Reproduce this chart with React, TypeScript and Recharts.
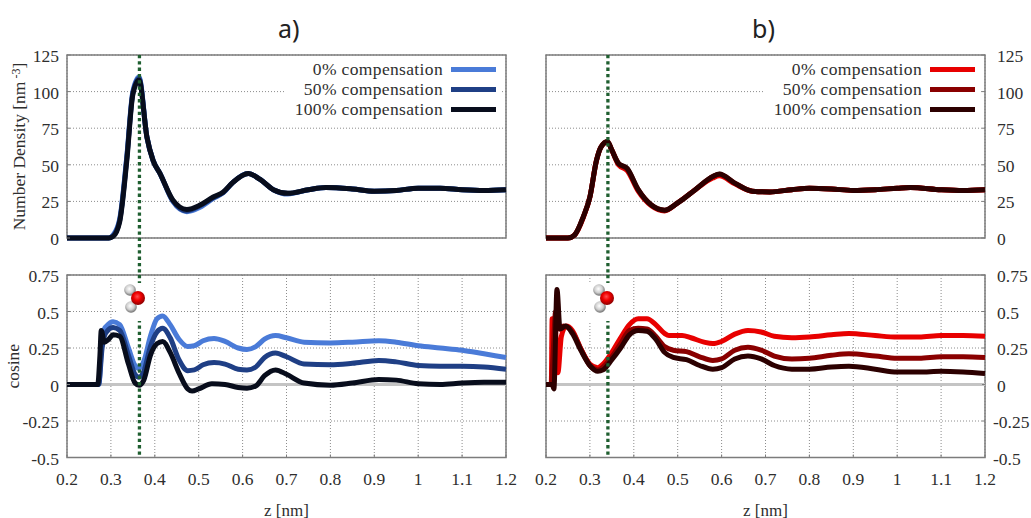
import { CartesianGrid, Legend, Line, LineChart, ReferenceArea, ReferenceLine, XAxis, YAxis } from 'recharts';

const FONT = '"Liberation Serif", serif';
const TEXT = '#2e2e2e';
const FRAME = '#7c7c7c';

const zTicks = [0.2, 0.3, 0.4, 0.5, 0.6, 0.7, 0.8, 0.9, 1, 1.1, 1.2];
const densityTicks = [0, 25, 50, 75, 100, 125];
const cosineTicks = [-0.5, -0.25, 0, 0.25, 0.5, 0.75];
const seriesNames = ['0% compensation', '50% compensation', '100% compensation'];
const blues = ['#4a7bd8', '#1f3f85', '#080d1c'];
const reds = ['#e80000', '#8a0000', '#2c0000'];

// density, panel a
const densZA = [0.2, 0.25, 0.295, 0.305, 0.32, 0.336, 0.35, 0.364, 0.382, 0.396, 0.412, 0.441, 0.473, 0.503, 0.533, 0.556, 0.578, 0.613, 0.64, 0.67, 0.703, 0.75, 0.79, 0.85, 0.9, 0.95, 1, 1.05, 1.1, 1.15, 1.2];
const densA0 = [0, 0, 0, 2, 13, 55, 100, 110, 69, 53, 44, 25, 18, 21, 27, 31, 38, 44, 40, 33, 30, 33, 34.5, 33.5, 32, 32.5, 34, 34, 33, 32.5, 33];
const densA50 = [0, 0, 0, 1.5, 12, 54, 99, 109, 69, 53, 44, 25.5, 18.5, 22, 27.5, 31, 38, 44, 40, 33, 30.5, 33, 34.5, 33.5, 32, 32.5, 34, 34, 33, 32.5, 33];
const densA100 = [0, 0, 0, 1, 11, 52, 98, 108, 69, 53, 44, 26, 19.5, 22.5, 28, 31.5, 38, 44, 40, 33, 30.5, 33, 34.5, 33.5, 32, 32.5, 34, 34, 33, 32.5, 33];

// density, panel b
const densZB = [0.2, 0.25, 0.265, 0.285, 0.3, 0.315, 0.325, 0.34, 0.35, 0.365, 0.385, 0.41, 0.44, 0.47, 0.5, 0.54, 0.58, 0.595, 0.63, 0.67, 0.71, 0.76, 0.8, 0.85, 0.9, 0.95, 1, 1.03, 1.1, 1.15, 1.2];
const densB0 = [0, 0, 2, 14, 28, 53, 62, 65.5, 60, 50, 46, 32, 22, 18.5, 24, 33, 41, 42.5, 37, 32, 31.5, 33, 34, 33.5, 32.5, 33, 34, 34.5, 33, 32.5, 33];
const densB50 = [0, 0, 2, 14.5, 28, 53, 62, 66, 60, 51, 47, 33, 22.5, 19, 24, 33, 42, 43.5, 37.5, 32, 31.5, 33, 34, 33.5, 32.5, 33, 34, 34.5, 33, 32.5, 33];
const densB100 = [0, 0, 2, 14.5, 28, 53, 62, 66, 60, 51, 47.5, 33, 22.5, 19, 24, 33, 42, 43.7, 37.5, 32, 31.5, 33, 34, 33.5, 32.5, 33, 34, 34.5, 33, 32.5, 33];

// cosine, panel a
const cosZA0 = [0.2, 0.272, 0.28, 0.285, 0.29, 0.305, 0.32, 0.34, 0.355, 0.364, 0.375, 0.39, 0.405, 0.418, 0.435, 0.455, 0.475, 0.49, 0.51, 0.535, 0.56, 0.59, 0.61, 0.63, 0.65, 0.675, 0.7, 0.74, 0.8, 0.85, 0.91, 0.95, 1, 1.05, 1.1, 1.15, 1.2];
const cosA0 = [0, 0, 0.3, 0.38, 0.4, 0.43, 0.41, 0.25, 0.13, 0.11, 0.16, 0.33, 0.45, 0.47, 0.41, 0.31, 0.26, 0.265, 0.3, 0.315, 0.295, 0.25, 0.24, 0.26, 0.31, 0.335, 0.32, 0.29, 0.285, 0.29, 0.3, 0.29, 0.265, 0.25, 0.235, 0.21, 0.185];
const cosZA50 = cosZA0;
const cosA50 = [0, 0, 0.25, 0.33, 0.36, 0.39, 0.37, 0.2, 0.07, 0.05, 0.09, 0.26, 0.36, 0.385, 0.32, 0.17, 0.095, 0.1, 0.135, 0.15, 0.14, 0.105, 0.1, 0.12, 0.185, 0.215, 0.19, 0.14, 0.135, 0.145, 0.165, 0.155, 0.13, 0.125, 0.125, 0.12, 0.105];
const cosZA100 = [0.2, 0.27, 0.275, 0.278, 0.285, 0.295, 0.305, 0.32, 0.34, 0.355, 0.364, 0.375, 0.39, 0.405, 0.418, 0.435, 0.455, 0.475, 0.485, 0.5, 0.53, 0.56, 0.59, 0.61, 0.63, 0.65, 0.675, 0.7, 0.74, 0.8, 0.85, 0.91, 0.95, 1, 1.05, 1.1, 1.15, 1.2];
const cosA100 = [0, 0, 0.2, 0.37, 0.29, 0.31, 0.34, 0.33, 0.14, 0.01, -0.005, 0.03, 0.2, 0.28, 0.295, 0.22, 0.08, -0.03, -0.045, -0.03, 0.005, 0, -0.02, -0.025, -0.01, 0.06, 0.1, 0.07, 0.01, -0.005, 0.01, 0.035, 0.03, 0.005, 0, 0.01, 0.015, 0.015];

// cosine, panel b
const cosZB0 = [0.2, 0.212, 0.214, 0.22, 0.227, 0.235, 0.246, 0.26, 0.28, 0.3, 0.318, 0.33, 0.35, 0.37, 0.39, 0.41, 0.43, 0.45, 0.47, 0.48, 0.51, 0.53, 0.56, 0.58, 0.6, 0.63, 0.66, 0.69, 0.72, 0.76, 0.8, 0.85, 0.89, 0.95, 1, 1.05, 1.1, 1.15, 1.2];
const cosB0 = [0, 0, 0.45, 0.45, 0.08, 0.33, 0.4, 0.37, 0.24, 0.14, 0.115, 0.14, 0.22, 0.32, 0.41, 0.45, 0.45, 0.41, 0.35, 0.335, 0.335, 0.32, 0.29, 0.28, 0.295, 0.345, 0.37, 0.36, 0.33, 0.32, 0.325, 0.34, 0.35, 0.335, 0.325, 0.325, 0.335, 0.335, 0.33];
const cosZB50 = [0.2, 0.212, 0.216, 0.222, 0.23, 0.24, 0.26, 0.28, 0.3, 0.318, 0.33, 0.35, 0.37, 0.39, 0.41, 0.43, 0.45, 0.47, 0.49, 0.52, 0.55, 0.58, 0.6, 0.63, 0.66, 0.69, 0.72, 0.76, 0.8, 0.85, 0.89, 0.95, 1, 1.05, 1.1, 1.15, 1.2];
const cosB50 = [0, 0, 0.2, 0.5, 0.38, 0.4, 0.36, 0.24, 0.13, 0.1, 0.12, 0.19, 0.28, 0.37, 0.385, 0.38, 0.33, 0.26, 0.235, 0.225, 0.19, 0.165, 0.175, 0.235, 0.255, 0.235, 0.195, 0.175, 0.18, 0.2, 0.21, 0.195, 0.18, 0.18, 0.19, 0.19, 0.185];
const cosZB100 = [0.2, 0.214, 0.218, 0.225, 0.232, 0.245, 0.26, 0.28, 0.3, 0.318, 0.33, 0.35, 0.37, 0.39, 0.41, 0.43, 0.45, 0.47, 0.49, 0.52, 0.55, 0.58, 0.6, 0.63, 0.66, 0.69, 0.72, 0.76, 0.8, 0.85, 0.89, 0.95, 1, 1.05, 1.1, 1.15, 1.2];
const cosB100 = [0, 0, -0.03, 0.65, 0.38, 0.4, 0.35, 0.23, 0.13, 0.09, 0.1, 0.17, 0.25, 0.34, 0.37, 0.365, 0.31, 0.22, 0.185, 0.17, 0.13, 0.105, 0.115, 0.175, 0.195, 0.175, 0.13, 0.105, 0.105, 0.12, 0.125, 0.105, 0.085, 0.085, 0.09, 0.085, 0.075];

const zip = (zs: number[], vs: number[]) => zs.map((z, i) => ({ z, v: vs[i] }));

const tickStyle = { fontFamily: FONT, fontSize: 17.5, fill: TEXT };
const tickMark = { stroke: FRAME, strokeWidth: 1 };

// right hand minus labels hang a little to the left, as in the original
function YTick({ x, y, textAnchor, payload }: any) {
  const shift = textAnchor === 'start' && payload.value < 0 ? -4 : 0;
  return (
    <text x={x + shift} y={y} dy={7} textAnchor={textAnchor} {...tickStyle}>
      {payload.value}
    </text>
  );
}

function LegendRows({ payload }: any) {
  const rows = [...(payload || [])].sort((a: any, b: any) => seriesNames.indexOf(a.value) - seriesNames.indexOf(b.value));
  return (
    <div style={{ fontFamily: FONT, fontSize: 17.5, letterSpacing: 0.35, color: TEXT }}>
      {rows.map((p: any) => (
        <div key={p.value} style={{ display: 'flex', justifyContent: 'flex-end', alignItems: 'center', height: 19.7 }}>
          <span>{p.value}</span>
          <span style={{ display: 'inline-block', width: 45, height: 5, marginLeft: 8, background: p.color }} />
        </div>
      ))}
    </div>
  );
}

function DensityLabel({ viewBox }: any) {
  const cy = viewBox.y + viewBox.height / 2;
  return (
    <text transform={`translate(25,${cy}) rotate(-90)`} textAnchor="middle" fontFamily={FONT} fontSize={17.5} fill={TEXT}>
      Number Density [nm<tspan dx={3} dy={-5} fontSize={12}>-3</tspan><tspan dy={5}>]</tspan>
    </text>
  );
}

type PanelProps = {
  left: number;
  width: number;
  side: 'left' | 'right';
  colors: string[];
  marker: number;
};

function plotMargin(side: 'left' | 'right') {
  return side === 'left' ? { left: 7, right: 14 } : { left: 26, right: 6 };
}

function DensityPanel({ left, width, side, colors, marker, zs, series, legendLeft }: PanelProps & { zs: number[]; series: number[][]; legendLeft: number }) {
  return (
    <div style={{ position: 'absolute', left, top: 0 }}>
      <LineChart width={width} height={280} margin={{ ...plotMargin(side), top: 55, bottom: 42 }}>
        <CartesianGrid strokeDasharray="1 2" stroke="#8c8c8c" />
        <XAxis type="number" dataKey="z" domain={[0.2, 1.2]} ticks={zTicks} interval={0} tick={false} tickLine={tickMark} tickSize={-3} axisLine={false} height={0} allowDuplicatedCategory={false} />
        <XAxis xAxisId="top" orientation="top" type="number" dataKey="z" domain={[0.2, 1.2]} ticks={zTicks} interval={0} tick={false} tickLine={tickMark} tickSize={-3} axisLine={false} height={0} allowDuplicatedCategory={false} />
        <YAxis
          type="number"
          orientation={side}
          domain={[0, 125]}
          ticks={densityTicks}
          interval={0}
          width={side === 'left' ? 60 : 40}
          tickLine={tickMark}
          tickSize={-3}
          axisLine={false}
          tickMargin={side === 'left' ? 11 : 15}
          tick={(p: any) => <YTick {...p} />}
          label={side === 'left' ? { content: (p: any) => <DensityLabel {...p} /> } : undefined}
        />
        <YAxis yAxisId="far" type="number" orientation={side === 'left' ? 'right' : 'left'} domain={[0, 125]} ticks={densityTicks} interval={0} width={0} tick={false} tickLine={tickMark} tickSize={-3} axisLine={false} />
        <ReferenceArea x1={0.697} x2={1.19} y1={82} y2={123} fill="#ffffff" fillOpacity={1} stroke="none" />
        <ReferenceArea x1={0.2} x2={1.2} y1={0} y2={125} fill="none" stroke={FRAME} strokeWidth={1.5} />
        {series.map((vs, i) => (
          <Line key={seriesNames[i]} data={zip(zs, vs)} dataKey="v" name={seriesNames[i]} type="monotone" stroke={colors[i]} strokeWidth={5} dot={false} isAnimationActive={false} />
        ))}
        <ReferenceLine segment={[{ x: marker, y: 125 }, { x: marker, y: -26 }]} ifOverflow="visible" stroke="#1f5f30" strokeWidth={3.3} strokeDasharray="3.3 3" />
        <Legend layout="vertical" align="center" verticalAlign="middle" wrapperStyle={{ left: legendLeft, top: 60, width: 254 }} content={(p: any) => <LegendRows {...p} />} />
      </LineChart>
    </div>
  );
}

function CosinePanel({ left, width, side, colors, marker, lines }: PanelProps & { lines: { z: number; v: number }[][] }) {
  return (
    <div style={{ position: 'absolute', left, top: 258 }}>
      <LineChart width={width} height={260} margin={{ ...plotMargin(side), top: 17, bottom: 5.5 }}>
        <CartesianGrid strokeDasharray="1 2" stroke="#8c8c8c" />
        <XAxis
          type="number"
          dataKey="z"
          domain={[0.2, 1.2]}
          ticks={zTicks}
          interval={0}
          height={55}
          tickLine={tickMark}
          tickSize={-3}
          axisLine={false}
          tickMargin={18}
          tick={tickStyle}
          allowDuplicatedCategory={false}
          label={{ value: 'z [nm]', position: 'insideBottom', offset: -3, style: { fontFamily: FONT, fontSize: 17, fill: TEXT } }}
        />
        <XAxis xAxisId="top" orientation="top" type="number" dataKey="z" domain={[0.2, 1.2]} ticks={zTicks} interval={0} tick={false} tickLine={tickMark} tickSize={-3} axisLine={false} height={0} allowDuplicatedCategory={false} />
        <YAxis
          type="number"
          orientation={side}
          domain={[-0.5, 0.75]}
          ticks={cosineTicks}
          interval={0}
          width={side === 'left' ? 60 : 40}
          tickLine={tickMark}
          tickSize={-3}
          axisLine={false}
          tickMargin={side === 'left' ? 11 : 15}
          tick={(p: any) => <YTick {...p} />}
          label={side === 'left' ? { value: 'cosine', angle: -90, position: 'insideLeft', offset: 6, style: { textAnchor: 'middle', fontFamily: FONT, fontSize: 17.5, fill: TEXT } } : undefined}
        />
        <YAxis yAxisId="far" type="number" orientation={side === 'left' ? 'right' : 'left'} domain={[-0.5, 0.75]} ticks={cosineTicks} interval={0} width={0} tick={false} tickLine={tickMark} tickSize={-3} axisLine={false} />
        <ReferenceArea x1={0.2} x2={1.2} y1={-0.5} y2={0.75} fill="none" stroke={FRAME} strokeWidth={1.5} />
        <ReferenceLine y={0} stroke="#c4c4c4" strokeWidth={3} />
        {lines.map((data, i) => (
          <Line key={seriesNames[i]} data={data} dataKey="v" name={seriesNames[i]} type="monotone" stroke={colors[i]} strokeWidth={5} dot={false} isAnimationActive={false} />
        ))}
        <ReferenceLine segment={[{ x: marker, y: 0.75 }, { x: marker, y: -0.5 }]} ifOverflow="visible" stroke="#1f5f30" strokeWidth={3.3} strokeDasharray="3.3 3" />
      </LineChart>
    </div>
  );
}

// water molecule picture, sits over the grid and the marker line
function Molecule({ x, y, id }: { x: number; y: number; id: string }) {
  return (
    <svg width={35} height={38} style={{ position: 'absolute', left: x, top: y }}>
      <defs>
        <radialGradient id={`${id}o`} cx="45%" cy="40%" r="60%">
          <stop offset="0%" stopColor="#ff5050" />
          <stop offset="45%" stopColor="#f00000" />
          <stop offset="100%" stopColor="#8a0000" />
        </radialGradient>
        <radialGradient id={`${id}h`} cx="45%" cy="40%" r="60%">
          <stop offset="0%" stopColor="#ffffff" />
          <stop offset="55%" stopColor="#cfcfcf" />
          <stop offset="100%" stopColor="#6c6c6c" />
        </radialGradient>
      </defs>
      <rect width={35} height={38} fill="#ffffff" />
      <circle cx={12} cy={7} r={5.8} fill={`url(#${id}h)`} />
      <circle cx={13} cy={24} r={5.8} fill={`url(#${id}h)`} />
      <circle cx={20} cy={15} r={7} fill={`url(#${id}o)`} />
    </svg>
  );
}

const titleStyle = { position: 'absolute' as const, top: 11, fontFamily: '"Noto Sans", sans-serif', fontSize: 25, color: '#222222' };

export default function App() {
  return (
    <div style={{ position: 'absolute', left: 0, top: 0, width: 1031, height: 518, overflow: 'hidden', background: '#ffffff' }}>
      <div style={{ ...titleStyle, left: 278 }}>a)</div>
      <div style={{ ...titleStyle, left: 752 }}>b)</div>
      <DensityPanel left={0} width={520} side="left" colors={blues} marker={0.365} zs={densZA} series={[densA0, densA50, densA100]} legendLeft={242} />
      <DensityPanel left={520} width={511} side="right" colors={reds} marker={0.341} zs={densZB} series={[densB0, densB50, densB100]} legendLeft={201} />
      <CosinePanel left={0} width={520} side="left" colors={blues} marker={0.365} lines={[zip(cosZA0, cosA0), zip(cosZA50, cosA50), zip(cosZA100, cosA100)]} />
      <CosinePanel left={520} width={511} side="right" colors={reds} marker={0.341} lines={[zip(cosZB0, cosB0), zip(cosZB50, cosB50), zip(cosZB100, cosB100)]} />
      <Molecule x={118} y={283} id="ma" />
      <Molecule x={587} y={283} id="mb" />
    </div>
  );
}
